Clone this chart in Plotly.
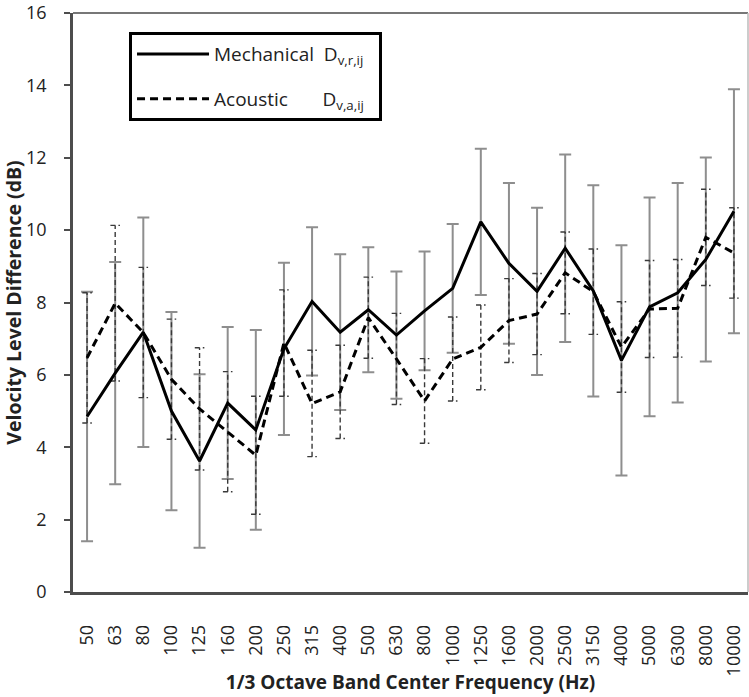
import plotly.graph_objects as go

freqs = ["50", "63", "80", "100", "125", "160", "200", "250", "315", "400", "500", "630",
         "800", "1000", "1250", "1600", "2000", "2500", "3150", "4000", "5000", "6300",
         "8000", "10000"]

mech = [4.85, 6.05, 7.18, 5.0, 3.62, 5.22, 4.48, 6.72, 8.03, 7.18, 7.8, 7.1,
        7.77, 8.39, 10.23, 9.08, 8.31, 9.5, 8.32, 6.4, 7.88, 8.27, 9.19, 10.52]
mech_err = [3.45, 3.07, 3.17, 2.74, 2.4, 2.1, 2.76, 2.38, 2.05, 2.15, 1.73, 1.76,
            1.64, 1.78, 2.02, 2.22, 2.31, 2.59, 2.92, 3.18, 3.02, 3.03, 2.82, 3.37]

acou = [6.47, 7.98, 7.17, 5.88, 5.06, 4.43, 3.78, 6.88, 5.21, 5.53, 7.58, 6.44,
        5.28, 6.44, 6.76, 7.5, 7.68, 8.82, 8.3, 6.77, 7.82, 7.84, 9.8, 9.37]
acou_err = [1.8, 2.15, 1.8, 1.66, 1.69, 1.66, 1.63, 1.47, 1.47, 1.29, 1.12, 1.26,
            1.17, 1.16, 1.17, 1.16, 1.12, 1.13, 1.18, 1.25, 1.34, 1.35, 1.33, 1.25]

xs = list(range(len(freqs)))
FONT = "Open Sans"
NB = "\u00a0"

fig = go.Figure()

# mechanical error bars (solid grey)
fig.add_trace(go.Scatter(
    x=xs, y=mech, mode="markers",
    marker=dict(size=1, color="rgba(0,0,0,0)"),
    error_y=dict(type="data", array=mech_err, visible=True,
                 color="#8e8e8e", thickness=2, width=6),
    showlegend=False, hoverinfo="skip"))

# acoustic error bars (dashed)
cap = 0.17
ex, ey = [], []
for i, (v, e) in enumerate(zip(acou, acou_err)):
    lo, hi = v - e, v + e
    ex += [i, i, None, i - cap, i + cap, None, i - cap, i + cap, None]
    ey += [lo, hi, None, lo, lo, None, hi, hi, None]
fig.add_trace(go.Scatter(
    x=ex, y=ey, mode="lines",
    line=dict(color="#3a3a3a", width=1.4, dash="5px,3px"),
    showlegend=False, hoverinfo="skip"))

fig.add_trace(go.Scatter(
    x=xs, y=mech, mode="lines",
    name="Mechanical" + NB * 2 + "D<sub>v,r,ij</sub>" + NB * 2,
    line=dict(color="black", width=3), legendgroup="m"))
fig.add_trace(go.Scatter(
    x=xs, y=acou, mode="lines",
    name="Acoustic" + NB * 7 + "D<sub>v,a,ij</sub>" + NB * 2,
    line=dict(color="black", width=3, dash="8px,5px"), legendgroup="a"))

fig.update_layout(
    width=749, height=697,
    margin=dict(l=73, r=1, t=13, b=105),
    paper_bgcolor="white", plot_bgcolor="white",
    font=dict(family=FONT, color="#222222", size=16),
    legend=dict(x=0.083, y=0.967, xanchor="left", yanchor="top",
                bordercolor="black", borderwidth=3, bgcolor="white",
                font=dict(family=FONT, size=19, color="#222222"),
                itemwidth=72,
                tracegroupgap=17, traceorder="grouped"),
    xaxis=dict(range=[-0.5, 23.5], tickmode="array", tickvals=xs, ticktext=freqs,
               tickangle=-90, ticks="", showgrid=False, zeroline=False,
               showline=True, linecolor="#4d4d4d", linewidth=2.5,
               tickfont=dict(family=FONT, size=18, color="#222222"),
               ticklabelstandoff=23,
               title=dict(text="<b>1/3 Octave Band Center Frequency (Hz)</b>",
                          font=dict(family=FONT, size=19, color="#222222"),
                          standoff=1)),
    yaxis=dict(range=[0, 16], dtick=2, ticks="outside", ticklen=6, tickwidth=2,
               tickcolor="#4d4d4d", showgrid=False, zeroline=False,
               showline=True, linecolor="#4d4d4d", linewidth=2.5,
               tickfont=dict(family=FONT, size=18, color="#222222"),
               ticklabelstandoff=14,
               title=dict(text="<b>Velocity Level Difference (dB)</b>",
                          font=dict(family=FONT, size=19.5, color="#222222"),
                          standoff=6)),
    shapes=[
        dict(type="line", xref="paper", yref="paper", x0=0, x1=1, y0=1, y1=1,
             line=dict(color="#777777", width=2), layer="below"),
        dict(type="line", xref="paper", yref="paper", x0=1, x1=1, y0=0, y1=1,
             line=dict(color="#bbbbbb", width=1.5), layer="below"),
    ],
)

fig.write_html("out.html", config={"displayModeBar": False},
               post_script="document.body.style.margin='0';document.body.style.padding='0';")
